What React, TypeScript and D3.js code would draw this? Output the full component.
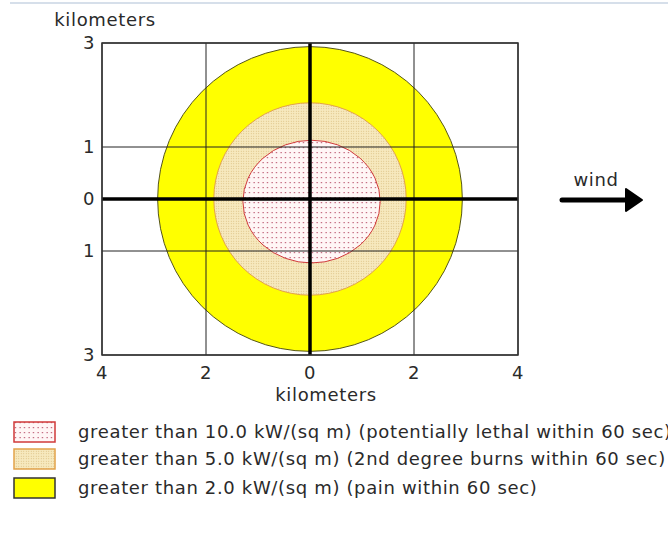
import React from "react";
import * as d3 from "d3";

const xTicks = [-4, -2, 0, 2, 4];
const yTicks = [3, 1, 0, -1, -3];
const zoneNames = ["yellow", "orange", "red"];
const zoneRx = [2.93, 1.85, 1.32];
const zoneRy = [2.93, 1.85, 1.18];
const zoneCx = [0, 0, 0.03];
const zoneCy = [0, 0, -0.05];
const legendLabels = [
  "greater than 10.0 kW/(sq m) (potentially lethal within 60 sec)",
  "greater than 5.0 kW/(sq m) (2nd degree burns within 60 sec)",
  "greater than 2.0 kW/(sq m) (pain within 60 sec)",
];
const axisTitle = "kilometers";
const windLabel = "wind";

const W = 668;
const H = 534;
const FONT = "DejaVu Sans, Verdana, sans-serif";
const FS = 18;
const LS = 0.65;

export default function App() {
  const x = d3.scaleLinear().domain([-4, 4]).range([102, 518]);
  const y = d3.scaleLinear().domain([-3, 3]).range([355, 43]);
  const kx = (v: number) => x(v) - x(0);
  const ky = (v: number) => y(0) - y(v);

  const fills: Record<string, string> = {
    yellow: "#ffff00",
    orange: "url(#tanPat)",
    red: "url(#redPat)",
  };
  const strokes: Record<string, string> = {
    yellow: "#55551a",
    orange: "#e2a24a",
    red: "#d03a3a",
  };
  const legendOrder = ["red", "orange", "yellow"];
  const legendY = [422, 449, 478];

  return (
    <svg
      width={W}
      height={H}
      style={{ position: "absolute", left: 0, top: 0, background: "#fff" }}
      fontFamily={FONT}
    >
      <defs>
        <pattern id="redPat" width={4.5} height={5} patternUnits="userSpaceOnUse">
          <rect width={4.5} height={5} fill="#fff6f6" />
          <rect x={1.5} y={2} width={1.2} height={1.2} fill="#b8506a" />
        </pattern>
        <pattern id="tanPat" width={2.5} height={2.5} patternUnits="userSpaceOnUse">
          <rect width={2.5} height={2.5} fill="#f7e9be" />
          <rect x={0.8} y={0.8} width={0.9} height={0.9} fill="#d6b878" />
        </pattern>
      </defs>
      <line x1={10} x2={W} y1={3} y2={3} stroke="#c9d5e3" strokeWidth={1.5} />

      {zoneNames.map((z, i) => (
        <ellipse
          key={z}
          cx={x(zoneCx[i])}
          cy={y(zoneCy[i])}
          rx={kx(zoneRx[i])}
          ry={ky(zoneRy[i])}
          fill={fills[z]}
          stroke={strokes[z]}
          strokeWidth={1}
        />
      ))}

      {xTicks
        .filter((t) => t !== 0)
        .map((t) => (
          <line key={"gx" + t} x1={x(t)} x2={x(t)} y1={y(3)} y2={y(-3)} stroke="#222" strokeWidth={1} />
        ))}
      {yTicks
        .filter((t) => t !== 0)
        .map((t) => (
          <line key={"gy" + t} x1={x(-4)} x2={x(4)} y1={y(t)} y2={y(t)} stroke="#222" strokeWidth={1} />
        ))}
      <line x1={x(0)} x2={x(0)} y1={y(3)} y2={y(-3)} stroke="#000" strokeWidth={3.5} />
      <line x1={x(-4)} x2={x(4)} y1={y(0)} y2={y(0)} stroke="#000" strokeWidth={3.5} />
      <rect
        x={x(-4)}
        y={y(3)}
        width={x(4) - x(-4)}
        height={y(-3) - y(3)}
        fill="none"
        stroke="#333"
        strokeWidth={1.5}
      />

      <g fontSize={FS} fill="#2a2a2a" letterSpacing={LS}>
        {yTicks.map((t) => (
          <text key={"yl" + t} x={95} y={y(t)} dy="0.35em" textAnchor="end">
            {Math.abs(t)}
          </text>
        ))}
        {xTicks.map((t) => (
          <text key={"xl" + t} x={x(t)} y={373} dy="0.35em" textAnchor="middle">
            {Math.abs(t)}
          </text>
        ))}
        <text x={105} y={26} textAnchor="middle">
          {axisTitle}
        </text>
        <text x={326} y={401} textAnchor="middle">
          {axisTitle}
        </text>

        <text x={596} y={186} textAnchor="middle">
          {windLabel}
        </text>

        {legendOrder.map((z, i) => (
          <text key={"lt" + z} x={78} y={legendY[i] + 10} dy="0.35em">
            {legendLabels[i]}
          </text>
        ))}
      </g>

      <line x1={562} x2={628} y1={200} y2={200} stroke="#000" strokeWidth={5} strokeLinecap="round" />
      <path d="M626,189 L642,200 L626,211 Z" fill="#000" stroke="#000" strokeWidth={2} strokeLinejoin="round" />

      {legendOrder.map((z, i) => (
        <rect
          key={"lg" + z}
          x={14}
          y={legendY[i]}
          width={41}
          height={20}
          fill={fills[z]}
          stroke={z === "yellow" ? "#333" : strokes[z]}
          strokeWidth={1.5}
        />
      ))}
    </svg>
  );
}
